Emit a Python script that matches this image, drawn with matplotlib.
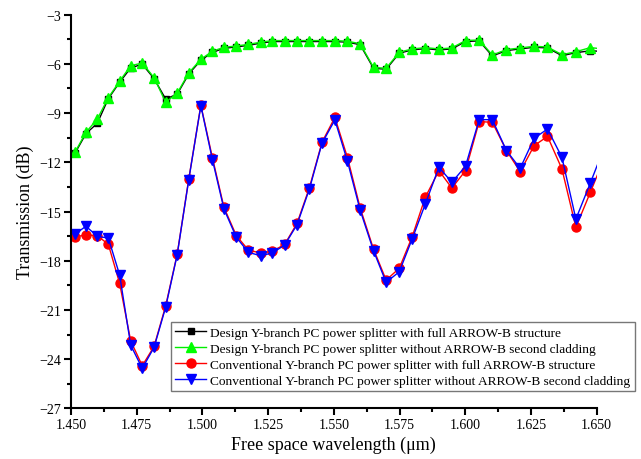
import numpy as np
import matplotlib.pyplot as plt
from matplotlib.ticker import MultipleLocator, FormatStrFormatter

plt.rcParams['font.family'] = ['Liberation Serif', 'DejaVu Serif']

# Wavelengths (um) (last one lies just past the axis edge)
wavelength = [1.4515, 1.4557, 1.4600, 1.4642, 1.4685, 1.4727, 1.4771, 1.4816,
              1.4860, 1.4904, 1.4948, 1.4994, 1.5038, 1.5082, 1.5129, 1.5175,
              1.5221, 1.5266, 1.5313, 1.5360, 1.5407, 1.5455, 1.5504, 1.5552,
              1.5600, 1.5651, 1.5699, 1.5749, 1.5798, 1.5848, 1.5900, 1.5949,
              1.6001, 1.6053, 1.6103, 1.6157, 1.6209, 1.6262, 1.6313, 1.6368,
              1.6421, 1.6476, 1.6530]

design_full = [-11.45, -10.25, -9.62, -8.12, -7.12, -6.25, -6.02, -6.90,
               -8.14, -7.85, -6.62, -5.78, -5.30, -5.05, -4.97, -4.87,
               -4.74, -4.64, -4.64, -4.64, -4.64, -4.64, -4.64, -4.68,
               -4.83, -6.27, -6.33, -5.35, -5.15, -5.07, -5.15, -5.09,
               -4.64, -4.60, -5.52, -5.19, -5.09, -4.99, -5.03, -5.50,
               -5.32, -5.20, -5.25]

design_no_clad = [-11.39, -10.17, -9.36, -8.06, -7.06, -6.11, -5.95, -6.84,
                  -8.34, -7.79, -6.55, -5.72, -5.23, -4.99, -4.91, -4.81,
                  -4.68, -4.58, -4.58, -4.58, -4.58, -4.58, -4.58, -4.62,
                  -4.77, -6.21, -6.27, -5.29, -5.09, -5.01, -5.09, -5.03,
                  -4.58, -4.54, -5.46, -5.13, -5.03, -4.93, -4.97, -5.44,
                  -5.26, -5.01, -5.10]

conv_full = [-16.54, -16.43, -16.47, -17.00, -19.38, -22.88, -24.40, -23.22,
             -20.76, -17.60, -13.02, -8.52, -11.72, -14.75, -16.47, -17.35,
             -17.53, -17.43, -17.00, -15.72, -13.55, -10.78, -9.26, -11.72,
             -14.77, -17.29, -19.18, -18.46, -16.54, -14.13, -12.51, -13.57,
             -12.51, -9.52, -9.56, -11.29, -12.57, -10.99, -10.42, -12.41,
             -15.96, -13.83, -11.71]

conv_no_clad = [-16.37, -15.90, -16.51, -16.62, -18.87, -23.14, -24.56, -23.28,
                -20.84, -17.63, -13.06, -8.55, -11.84, -14.85, -16.57, -17.49,
                -17.69, -17.53, -17.04, -15.80, -13.63, -10.84, -9.42, -11.94,
                -14.91, -17.39, -19.32, -18.67, -16.68, -14.54, -12.30, -13.22,
                -12.24, -9.40, -9.40, -11.29, -12.37, -10.54, -9.97, -11.70,
                -15.46, -13.26, -11.05]

labels = ['Design Y-branch PC power splitter with full ARROW-B structure',
          'Design Y-branch PC power splitter without ARROW-B second cladding',
          'Conventional Y-branch PC power splitter with full ARROW-B structure',
          'Conventional Y-branch PC power splitter without ARROW-B second cladding']


def main():
    fig = plt.figure(figsize=(6.41, 4.60), dpi=100)
    ax = fig.add_axes([0.1108, 0.110, 0.820, 0.856])

    # Plot the four series
    ax.plot(wavelength, design_full, '-s', color='black', lw=1, ms=5, label=labels[0])
    ax.plot(wavelength, design_no_clad, '-^', color='#00ee00', mfc='#00ff00',
            mec='#00ff00', lw=1, ms=6.5, label=labels[1])
    ax.plot(wavelength, conv_full, '-o', color='red', lw=1, ms=6.5, label=labels[2])
    ax.plot(wavelength, conv_no_clad, '-v', color='blue', lw=1, ms=7, label=labels[3])

    # Axis settings
    ax.set_xlim(1.450, 1.650)
    ax.set_ylim(-27, -3)
    ax.xaxis.set_major_locator(MultipleLocator(0.025))
    ax.xaxis.set_minor_locator(MultipleLocator(0.0125))
    ax.xaxis.set_major_formatter(FormatStrFormatter('%.3f'))
    ax.yaxis.set_major_locator(MultipleLocator(3))
    ax.yaxis.set_minor_locator(MultipleLocator(1.5))
    for side in ('top', 'right'):
        ax.spines[side].set_visible(False)
    for side in ('left', 'bottom'):
        ax.spines[side].set_linewidth(1.5)
    ax.tick_params(which='major', direction='out', length=5, width=1.5,
                   labelsize=10, pad=2)
    ax.tick_params(which='minor', direction='out', length=3, width=1.5)

    ax.set_xlabel('Free space wavelength (\u03bcm)', fontsize=13, labelpad=3)
    ax.set_ylabel('Transmission (dB)', fontsize=13, labelpad=4)

    leg = ax.legend(loc='lower left', bbox_to_anchor=(171 / 641, (460 - 392) / 460),
                    bbox_transform=fig.transFigure, fontsize=9.68, frameon=True,
                    fancybox=False, edgecolor='#555555', handlelength=2.3,
                    handletextpad=0.3, borderpad=0.33, labelspacing=0.26,
                    borderaxespad=0)
    leg.get_frame().set_linewidth(1)

    fig.savefig('out.png', dpi=100)


if __name__ == '__main__':
    main()
